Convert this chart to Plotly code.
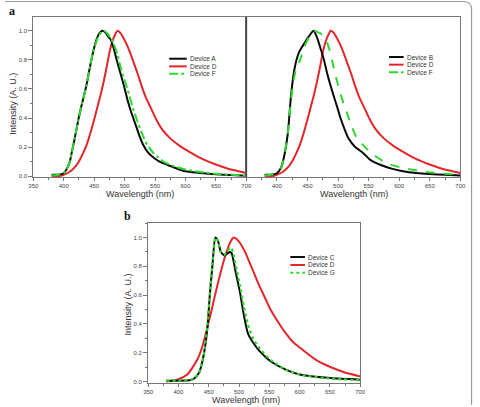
import plotly.graph_objects as go

W, H = 480, 407

# ---------------- data ----------------
wl_A = [380, 390, 400, 405, 410, 413, 418, 424, 430, 437, 443, 448, 453, 458, 463, 468, 473, 477,
        482, 487, 493, 499, 505, 510, 515, 520, 525, 530, 539, 550, 560, 575, 597, 625, 650, 675, 700]
int_A = [0.01, 0.01, 0.02, 0.05, 0.10, 0.16, 0.26, 0.39, 0.50, 0.62, 0.75, 0.85, 0.93, 0.98, 1.0, 0.99,
         0.96, 0.94, 0.88, 0.80, 0.71, 0.62, 0.52, 0.45, 0.39, 0.33, 0.27, 0.22, 0.16, 0.12, 0.094,
         0.07, 0.036, 0.022, 0.013, 0.007, 0.003]

wl_D = [380, 390, 400, 410, 420, 426, 432, 438, 444, 450, 455, 460, 464, 470, 475, 480, 485, 488,
        492, 497, 503, 509, 515, 521, 528, 535, 543, 552, 562, 575, 590, 605, 620, 635, 650, 665, 680, 700]
int_D = [0.0, 0.0, 0.01, 0.03, 0.07, 0.11, 0.16, 0.22, 0.30, 0.39, 0.47, 0.55, 0.62, 0.74, 0.85, 0.93,
         0.98, 1.0, 0.99, 0.96, 0.91, 0.85, 0.78, 0.71, 0.62, 0.54, 0.47, 0.39, 0.32, 0.26, 0.21,
         0.17, 0.135, 0.105, 0.08, 0.058, 0.04, 0.022]

wl_F = [380, 390, 400, 405, 410, 413, 418, 424, 430, 437, 443, 448, 453, 458, 463, 467, 472, 477,
        482, 488, 494, 499, 504, 510, 515, 520, 527, 534, 540, 547, 555, 566, 580, 600, 625, 650, 675, 700]
int_F = [0.005, 0.008, 0.02, 0.05, 0.10, 0.16, 0.26, 0.39, 0.50, 0.62, 0.75, 0.85, 0.92, 0.97, 0.995,
         1.0, 0.98, 0.95, 0.91, 0.84, 0.74, 0.67, 0.61, 0.52, 0.45, 0.39, 0.31, 0.24, 0.20, 0.16,
         0.13, 0.094, 0.07, 0.045, 0.028, 0.016, 0.009, 0.004]

wl_B = [380, 390, 400, 407, 412, 418, 423, 428, 432, 437, 445, 452, 460, 466, 472, 477, 482, 488,
        493, 499, 504, 510, 517, 528, 541, 552, 568, 589, 616, 650, 675, 700]
int_B = [0.01, 0.01, 0.02, 0.06, 0.14, 0.30, 0.55, 0.72, 0.80, 0.86, 0.915, 0.96, 1.0, 0.95, 0.87,
         0.80, 0.71, 0.62, 0.55, 0.47, 0.40, 0.33, 0.26, 0.20, 0.16, 0.114, 0.08, 0.05, 0.027,
         0.015, 0.009, 0.005]

wl_F2 = [380, 390, 400, 407, 412, 418, 423, 427, 432, 437, 445, 453, 461, 467, 472, 477, 482, 486,
         490, 494, 498, 503, 509, 515, 520, 530, 544, 557, 579, 605, 648, 675, 700]
int_F2 = [0.005, 0.01, 0.02, 0.06, 0.14, 0.30, 0.52, 0.65, 0.75, 0.79, 0.89, 0.96, 1.0, 0.99, 0.98,
          0.96, 0.92, 0.87, 0.80, 0.73, 0.66, 0.58, 0.50, 0.43, 0.37, 0.27, 0.20, 0.15, 0.09,
          0.057, 0.027, 0.017, 0.01]

wl_C = [380, 400, 420, 426, 434, 439, 444, 448, 452, 456, 461, 465, 470, 476, 481, 485, 488, 494,
        502, 508, 515, 524, 534, 552, 578, 602, 651, 700]
int_C = [0.005, 0.005, 0.01, 0.02, 0.06, 0.13, 0.24, 0.38, 0.61, 0.80, 1.0, 0.98, 0.90, 0.875, 0.89,
         0.90, 0.89, 0.77, 0.61, 0.46, 0.33, 0.265, 0.21, 0.14, 0.08, 0.046, 0.023, 0.012]

wl_G = [380, 400, 420, 426, 434, 439, 444, 448, 452, 456, 461, 465, 470, 476, 481, 487, 491, 496,
        502, 508, 515, 523, 534, 552, 578, 602, 650, 700]
int_G = [0.005, 0.005, 0.01, 0.02, 0.06, 0.13, 0.24, 0.40, 0.62, 0.81, 1.0, 0.98, 0.90, 0.88, 0.91,
         0.93, 0.88, 0.78, 0.66, 0.52, 0.39, 0.30, 0.23, 0.15, 0.08, 0.045, 0.02, 0.008]

wl_Db = [380, 390, 400, 415, 431, 440, 448, 455, 461, 468, 475, 481, 486, 491, 496, 502, 510, 518,
         526, 534, 543, 552, 565, 578, 590, 602, 627, 651, 676, 700]
int_Db = [0.0, 0.005, 0.015, 0.05, 0.15, 0.25, 0.38, 0.50, 0.61, 0.73, 0.84, 0.92, 0.97, 1.0, 0.99,
          0.96, 0.90, 0.82, 0.74, 0.66, 0.58, 0.50, 0.41, 0.33, 0.27, 0.23, 0.15, 0.10, 0.06, 0.035]

x_ticks = [350, 400, 450, 500, 550, 600, 650, 700]
x_ticks_right = [400, 450, 500, 550, 600, 650, 700]
legend_a1 = ["Device A", "Device D", "Device F"]
legend_a2 = ["Device B", "Device D", "Device F"]
legend_b = ["Device C", "Device D", "Device G"]

BLACK = "#0a0a0a"
RED = "#e3262b"
GREEN = "#2ed82e"
FONT = "Liberation Sans, Arial, sans-serif"


def fx(x):
    return x / W


def fy(y):
    return 1 - y / H


fig = go.Figure()


def add(xs, ys, color, dash, xa, ya, width=2):
    fig.add_trace(go.Scatter(x=xs, y=ys, mode="lines", xaxis=xa, yaxis=ya,
                             line=dict(color=color, width=width, dash=dash, shape="spline", smoothing=0.6),
                             showlegend=False, hoverinfo="skip"))


# panel a, left
add(wl_D, int_D, RED, "solid", "x", "y")
add(wl_A, int_A, BLACK, "solid", "x", "y")
add(wl_F, int_F, GREEN, "dashdot", "x", "y")
# panel a, right
add(wl_D, int_D, RED, "solid", "x2", "y2")
add(wl_B, int_B, BLACK, "solid", "x2", "y2")
add(wl_F2, int_F2, GREEN, "dash", "x2", "y2")
# panel b
add(wl_Db, int_Db, RED, "solid", "x3", "y3")
add(wl_C, int_C, BLACK, "solid", "x3", "y3")
add(wl_G, int_G, GREEN, "dot", "x3", "y3", width=2.2)

tickfont = dict(family=FONT, size=6, color="#444")
AX = "#777"

xcommon = dict(range=[350, 700], showline=True, linecolor=AX, linewidth=1, mirror=True,
               ticks="outside", ticklen=3, tickcolor=AX, tickfont=tickfont, showgrid=False,
               zeroline=False, fixedrange=True)
ycommon = dict(showline=True, linecolor=AX, linewidth=1, mirror=True, showgrid=False,
               zeroline=False, fixedrange=True)

ya_range = [-0.0068, 1.0959]
yb_range = [-0.0118, 1.1017]

fig.update_layout(
    width=W, height=H, margin=dict(l=0, r=0, t=0, b=0),
    paper_bgcolor="white", plot_bgcolor="white",
    xaxis=dict(domain=[fx(29), fx(247)], anchor="y", tickmode="array", tickvals=x_ticks,
               minor=dict(ticks="outside", ticklen=2, tickcolor=AX, dtick=25, tick0=350), **xcommon),
    yaxis=dict(domain=[fy(178), fy(17)], anchor="x", range=ya_range, tickmode="linear", tick0=0,
               dtick=0.2, tickformat=".1f", ticks="outside", ticklen=4, tickcolor=AX, tickfont=tickfont,
               minor=dict(ticks="outside", ticklen=2, tickcolor=AX, dtick=0.1, tick0=0), **ycommon),
    xaxis2=dict(domain=[fx(247), fx(466)], anchor="y2", tickmode="array", tickvals=x_ticks_right,
                minor=dict(ticks="outside", ticklen=2, tickcolor=AX, dtick=25, tick0=350), **xcommon),
    yaxis2=dict(domain=[fy(178), fy(17)], anchor="x2", range=ya_range, showticklabels=False,
                ticks="", **ycommon),
    xaxis3=dict(domain=[fx(146.5), fx(363.5)], anchor="y3", tickmode="array", tickvals=x_ticks,
                minor=dict(ticks="outside", ticklen=2, tickcolor=AX, dtick=25, tick0=350), **xcommon),
    yaxis3=dict(domain=[fy(385), fy(224)], anchor="x3", range=yb_range, tickmode="linear", tick0=0,
                dtick=0.2, tickformat=".1f", ticks="outside", ticklen=4, tickcolor=AX, tickfont=tickfont,
                minor=dict(ticks="outside", ticklen=2, tickcolor=AX, dtick=0.1, tick0=0), **ycommon),
)

shapes = []
annotations = []

# shared divider between the two panels of (a)
shapes.append(dict(type="line", xref="paper", yref="paper", x0=fx(247), x1=fx(247),
                   y0=fy(178), y1=fy(17), line=dict(color="#444", width=1.6)))

# outer rounded frame (top + right edges)
r = 8
path = (f"M 0,{fy(1.5)} L {fx(477.5 - r)},{fy(1.5)} "
        f"Q {fx(477.5)},{fy(1.5)} {fx(477.5)},{fy(1.5 + r)} L {fx(477.5)},{fy(407)}")
shapes.append(dict(type="path", xref="paper", yref="paper", path=path,
                   line=dict(color="#9a9a9a", width=1.2)))


def legend(names, dashes, colors, x0, x1, ys):
    for name, dash, col, y in zip(names, dashes, colors, ys):
        shapes.append(dict(type="line", xref="paper", yref="paper", x0=fx(x0), x1=fx(x1),
                           y0=fy(y), y1=fy(y), line=dict(color=col, width=2, dash=dash)))
        annotations.append(dict(text=name, xref="paper", yref="paper", x=fx(x1 + 1), y=fy(y),
                                xanchor="left", yanchor="middle", showarrow=False,
                                font=dict(family=FONT, size=6.5, color="#333")))


legend(legend_a1, ["solid", "solid", "dashdot"], [BLACK, RED, GREEN], 168, 186, [59, 66.7, 74])
legend(legend_a2, ["solid", "solid", "dashdot"], [BLACK, RED, GREEN], 393, 408, [57.3, 65, 72.7])
legend(legend_b, ["solid", "solid", "dot"], [BLACK, RED, GREEN], 292, 307, [258.3, 266.3, 274])

title_font = dict(family=FONT, size=9, color="#333")
for (x, y) in [(138, 195), (357, 195), (247, 402)]:
    annotations.append(dict(text="Wavelength (nm)", xref="paper", yref="paper", x=fx(x), y=fy(y),
                            xanchor="center", yanchor="middle", showarrow=False, font=title_font))
for (x, y) in [(8.5, 104), (126, 306)]:
    annotations.append(dict(text="Intensity (A. U.)", xref="paper", yref="paper", x=fx(x), y=fy(y),
                            xanchor="center", yanchor="middle", showarrow=False, textangle=-90,
                            font=title_font))

label_font = dict(family="Liberation Serif, DejaVu Serif, serif", size=12, color="#111")
annotations.append(dict(text="<b>a</b>", xref="paper", yref="paper", x=fx(7), y=fy(11),
                        xanchor="center", yanchor="middle", showarrow=False, font=label_font))
annotations.append(dict(text="<b>b</b>", xref="paper", yref="paper", x=fx(125), y=fy(217),
                        xanchor="center", yanchor="middle", showarrow=False, font=label_font))

fig.update_layout(shapes=shapes, annotations=annotations)

fig.write_html("out.html")
